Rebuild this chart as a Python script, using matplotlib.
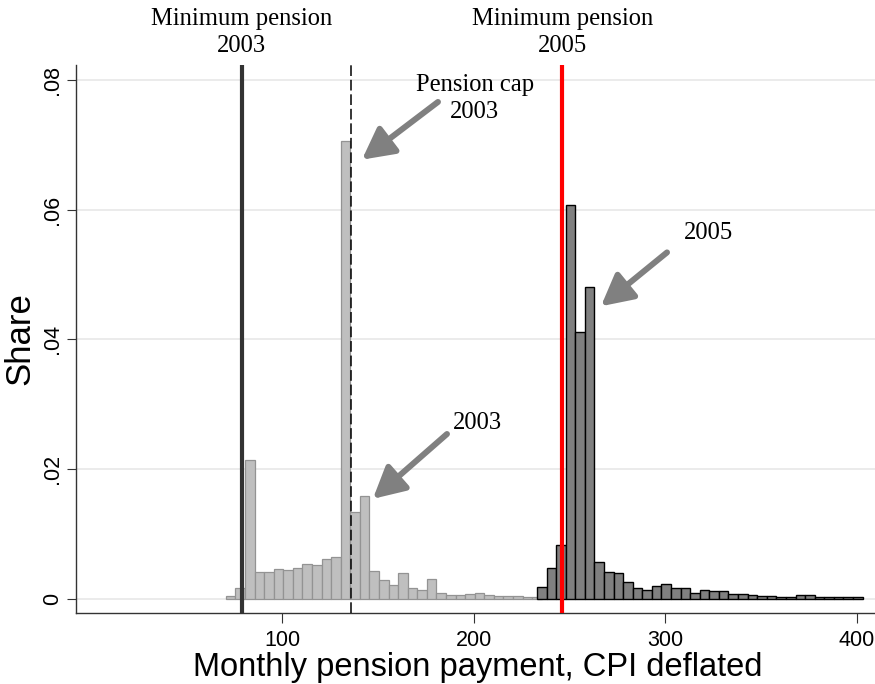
import matplotlib as mpl
import matplotlib.pyplot as plt
import numpy as np

# --- Data ---
BIN_WIDTH = 5
start_2003 = 70.5
share_2003 = [
    0.0004, 0.0017, 0.0214, 0.0041, 0.0041, 0.0046, 0.0044, 0.0048, 0.0053,
    0.0052, 0.0061, 0.0065, 0.0706, 0.0133, 0.0159, 0.0042, 0.0029, 0.0021,
    0.0039, 0.0017, 0.0014, 0.0030, 0.0009, 0.0005, 0.0006, 0.0008, 0.0009,
    0.0006, 0.0004, 0.0004, 0.0004, 0.0003, 0.0003,
]
start_2005 = 233.0
share_2005 = [
    0.00175, 0.0047, 0.0083, 0.0607, 0.0412, 0.0481, 0.0056, 0.0041, 0.0040,
    0.0026, 0.0017, 0.0013, 0.0019, 0.0022, 0.0016, 0.0016, 0.0009, 0.0014,
    0.0012, 0.0012, 0.0008, 0.0008, 0.0006, 0.0004, 0.0004, 0.0003, 0.0002,
    0.0006, 0.0005, 0.0003, 0.0002, 0.0002, 0.0002, 0.0002,
]
min_pension_2003 = 78.8
min_pension_2005 = 246.2
pension_cap_2003 = 135.9

x_ticks = [100, 200, 300, 400]
y_ticks = [0, 0.02, 0.04, 0.06, 0.08]
y_ticklabels = ["0", ".02", ".04", ".06", ".08"]

PALETTE = {
    "bar_2003": "#bfbfbf",
    "edge_2003": "#939393",
    "bar_2005": "#808080",
    "edge_2005": "#000000",
    "min_2003": "#333333",
    "min_2005": "#ff0000",
    "arrow": "#808080",
    "grid": "#e6e6e6",
    "axis": "#333333",
}

mpl.rcParams.update({
    "font.family": "sans-serif",
    "font.sans-serif": ["Liberation Sans", "DejaVu Sans"],
})
SERIF = ["Liberation Serif", "DejaVu Serif"]

fig = plt.figure(figsize=(8.75, 6.84), dpi=100)
ax = fig.add_axes([0.0869, 0.1038, 0.9131, 0.8012])
ax.set_xlim(-7.7, 409.5)
ax.set_ylim(-0.0022, 0.0823)

# gridlines
ax.set_axisbelow(True)
ax.yaxis.grid(True, color=PALETTE["grid"], linewidth=1.1)
ax.xaxis.grid(False)

# histograms
left_2003 = start_2003 + BIN_WIDTH * np.arange(len(share_2003))
left_2005 = start_2005 + BIN_WIDTH * np.arange(len(share_2005))
ax.bar(left_2003, share_2003, width=BIN_WIDTH, align="edge",
       color=PALETTE["bar_2003"], edgecolor=PALETTE["edge_2003"], linewidth=0.9, zorder=2)
ax.bar(left_2005, share_2005, width=BIN_WIDTH, align="edge",
       color=PALETTE["bar_2005"], edgecolor=PALETTE["edge_2005"], linewidth=1.0, zorder=3)

# reference lines
ax.axvline(min_pension_2003, color=PALETTE["min_2003"], linewidth=3.0, zorder=4)
ax.axvline(min_pension_2005, color=PALETTE["min_2005"], linewidth=3.0, zorder=4)
ax.axvline(pension_cap_2003, color="black", linewidth=1.1, linestyle=(0, (7, 2.5)), zorder=4)

# labels above the plot
txt_kw = dict(family=SERIF, fontsize=17.7, ha="center", va="center",
              linespacing=1.3, clip_on=False)
ax.text(min_pension_2003, 0.0873, "Minimum pension\n2003", **txt_kw)
ax.text(min_pension_2005, 0.0873, "Minimum pension\n2005", **txt_kw)

# annotated arrows
arrow_kw = dict(arrowstyle="-|>,head_length=0.95,head_width=0.5",
                color=PALETTE["arrow"], linewidth=4.3, mutation_scale=20,
                shrinkA=0, shrinkB=0)
ax.annotate("", xy=(141.6, 0.0677), xytext=(181.3, 0.0766), arrowprops=arrow_kw, zorder=5)
ax.annotate("", xy=(147.3, 0.0154), xytext=(186.0, 0.0254), arrowprops=arrow_kw, zorder=5)
ax.annotate("", xy=(266.4, 0.0451), xytext=(300.9, 0.0534), arrowprops=arrow_kw, zorder=5)
ax.text(200.5, 0.0772, "Pension cap\n2003", **txt_kw)
ax.text(201.7, 0.0271, "2003", **txt_kw)
ax.text(322.3, 0.0564, "2005", **txt_kw)

# axes styling
for side in ("top", "right"):
    ax.spines[side].set_visible(False)
for side in ("left", "bottom"):
    ax.spines[side].set_color(PALETTE["axis"])
    ax.spines[side].set_linewidth(1.0)

ax.set_xticks(x_ticks)
ax.set_yticks(y_ticks)
ax.set_yticklabels(y_ticklabels, rotation=90, va="center")
ax.tick_params(axis="x", direction="out", length=7, width=0.8,
               color=PALETTE["axis"], labelsize=15.5, pad=5)
ax.tick_params(axis="y", direction="out", length=6.5, width=0.8,
               color=PALETTE["axis"], labelsize=15.5, pad=3)

ax.set_xlabel("Monthly pension payment, CPI deflated", fontsize=23.5, va="baseline")
ax.xaxis.set_label_coords(0.503, -0.115)
ax.set_ylabel("Share", fontsize=25, va="center")
ax.yaxis.set_label_coords(-0.070, 0.5)

fig.savefig("out.png", dpi=100)
plt.close(fig)
